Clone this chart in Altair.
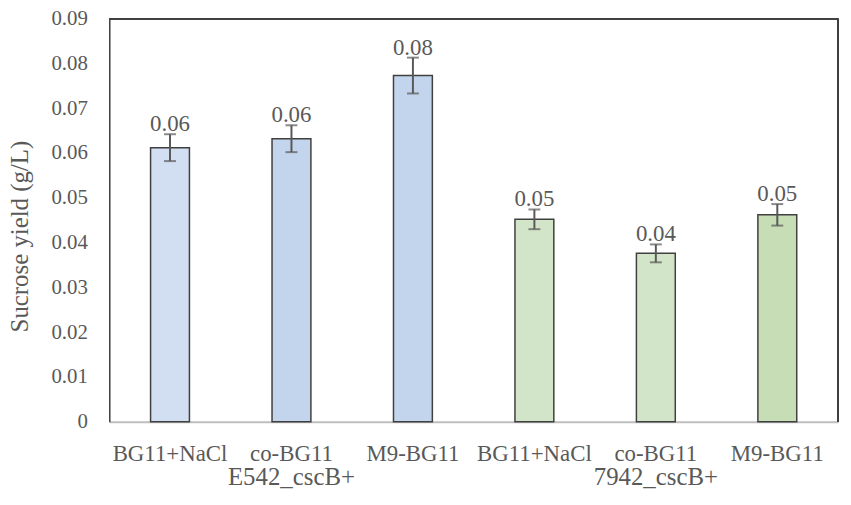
import altair as alt
import pandas as pd

groups = ["E542_cscB+", "E542_cscB+", "E542_cscB+", "7942_cscB+", "7942_cscB+", "7942_cscB+"]
media = ["BG11+NaCl", "co-BG11", "M9-BG11", "BG11+NaCl", "co-BG11", "M9-BG11"]
means = [0.0612, 0.0632, 0.0773, 0.0452, 0.0376, 0.0462]
errs = [0.0030, 0.0030, 0.0040, 0.0022, 0.0020, 0.0024]
fills = ["#d2def1", "#c3d5ec", "#c3d5ec", "#d3e5c8", "#d3e5c8", "#c6ddb5"]
y_ticks = [0, 0.01, 0.02, 0.03, 0.04, 0.05, 0.06, 0.07, 0.08, 0.09]
group_names = ["E542_cscB+", "7942_cscB+"]
group_center_media = ["co-BG11", "co-BG11"]

keys = [g + "|" + m for g, m in zip(groups, media)]
df = pd.DataFrame({
    "key": keys, "group": groups, "medium": media, "mean": means, "err": errs, "fill": fills,
})
df["lo"] = df["mean"] - df["err"]
df["hi"] = df["mean"] + df["err"]

gdf = pd.DataFrame({
    "key": [g + "|" + m for g, m in zip(group_names, group_center_media)],
    "name": group_names,
})

W, H = 734, 406
FONT = "Liberation Serif"
TXT = "#595959"

xscale = alt.Scale(domain=keys, paddingInner=0.68, paddingOuter=0.34)
yscale = alt.Scale(domain=[0, 0.09], nice=False)

x_enc = alt.X("key:N", scale=xscale, sort=keys, axis=alt.Axis(
    title=None, labelExpr="split(datum.label, '|')[1]", labelAngle=0,
    ticks=False, domainColor="#bfbfbf", domainWidth=2, labelPadding=21,
    labelFont=FONT, labelFontSize=23, labelColor=TXT, grid=False))

y_enc = alt.Y("mean:Q", scale=yscale, axis=alt.Axis(
    title="Sucrose yield (g/L)", values=y_ticks, format=".2~f", ticks=False,
    domainColor="#404040", domainWidth=1.5, labelPadding=22, grid=False,
    labelFont=FONT, labelFontSize=21, labelColor=TXT,
    titleFont=FONT, titleFontSize=25, titleColor=TXT, titleFontWeight="normal",
    titleX=-90, titleY=219, titleBaseline="middle", titleAngle=-90))

base = alt.Chart(df)

bars = base.mark_bar(stroke="#404040", strokeWidth=1.5).encode(
    x=x_enc, y=y_enc, fill=alt.Fill("fill:N", scale=None))

rules = base.mark_rule(color="#595959", strokeWidth=2).encode(
    x=alt.X("key:N", scale=xscale, sort=keys), y=alt.Y("lo:Q", scale=yscale), y2="hi:Q")

caps_hi = base.mark_tick(color="#595959", thickness=2, size=12).encode(
    x=alt.X("key:N", scale=xscale, sort=keys), y=alt.Y("hi:Q", scale=yscale))
caps_lo = base.mark_tick(color="#595959", thickness=2, size=12).encode(
    x=alt.X("key:N", scale=xscale, sort=keys), y=alt.Y("lo:Q", scale=yscale))

vals = base.mark_text(font=FONT, fontSize=23, color=TXT, dy=-3, baseline="alphabetic").encode(
    x=alt.X("key:N", scale=xscale, sort=keys), y=alt.Y("hi:Q", scale=yscale),
    text=alt.Text("mean:Q", format=".2f"))

glabels = alt.Chart(gdf).mark_text(font=FONT, fontSize=25, color=TXT, baseline="alphabetic").encode(
    x=alt.X("key:N", scale=xscale, sort=keys), y=alt.value(470), text="name:N")

top_line = alt.Chart(df).mark_rule(color="#404040", strokeWidth=1.5).encode(
    x=alt.value(0), x2=alt.value(W), y=alt.value(0))
right_line = alt.Chart(df).mark_rule(color="#404040", strokeWidth=1.5).encode(
    x=alt.value(W), y=alt.value(0), y2=alt.value(H))

chart = alt.layer(bars, rules, caps_hi, caps_lo, vals, glabels, top_line, right_line).properties(
    width=W, height=H,
    autosize=alt.AutoSizeParams(type="none"),
    padding={"left": 102, "top": 9, "right": 5, "bottom": 70},
).configure_view(stroke=None).configure(background="white")

chart.save("out.html", embed_options={"renderer": "svg", "actions": False})
